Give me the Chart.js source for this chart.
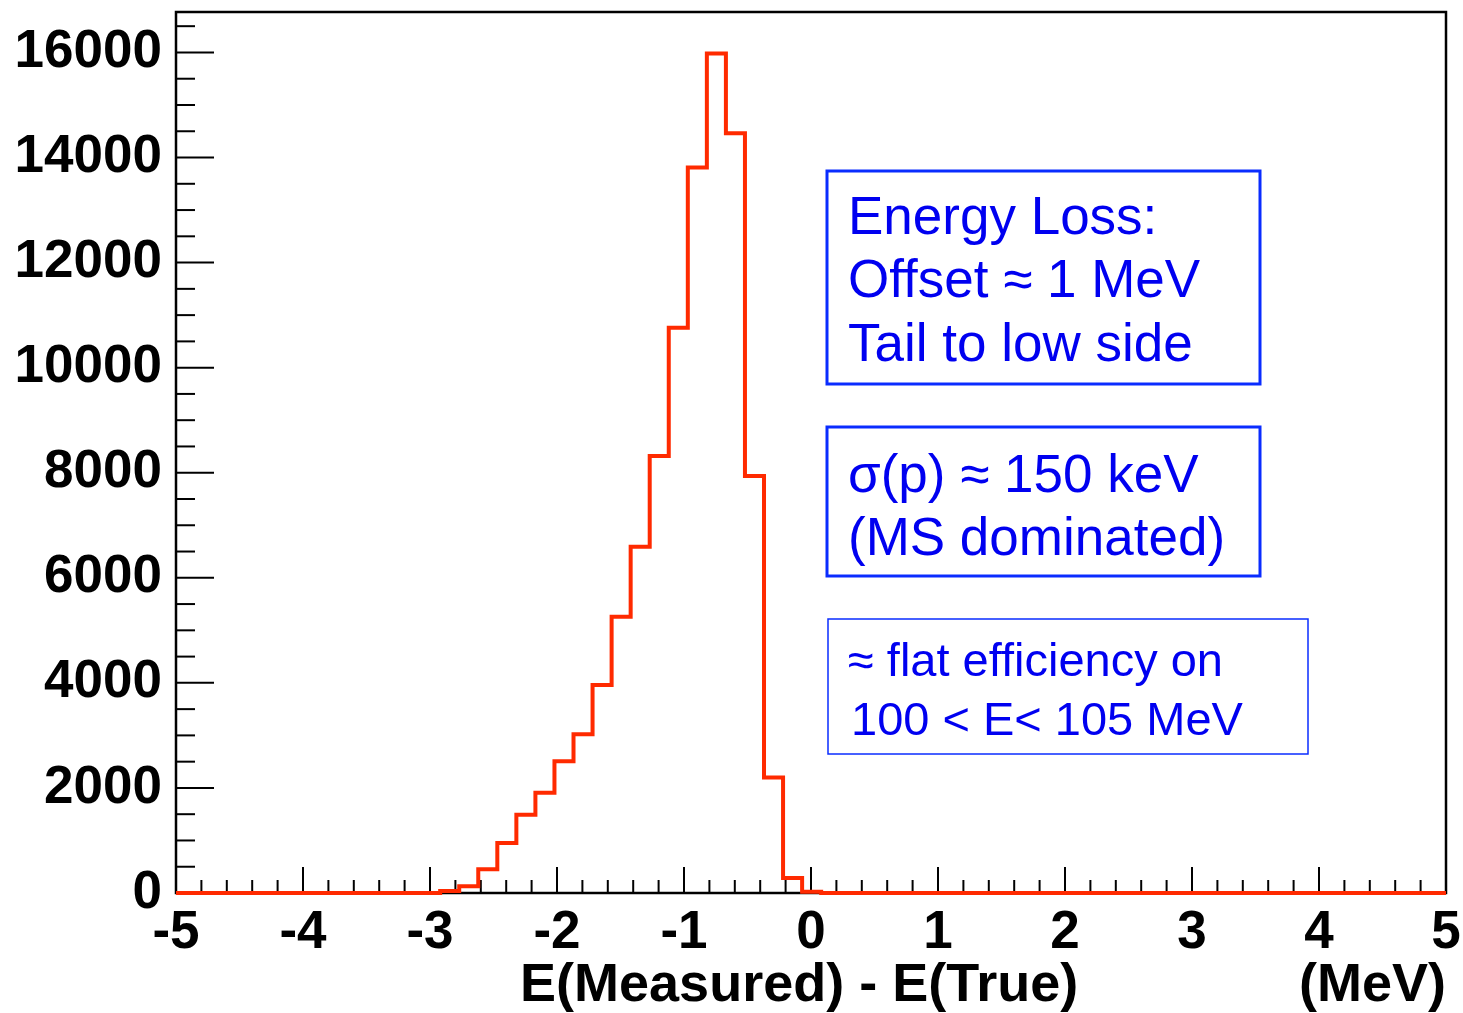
<!DOCTYPE html>
<html>
<head>
<meta charset="utf-8">
<script src="https://cdn.jsdelivr.net/npm/chart.js@4.4.0/dist/chart.umd.min.js"></script>
<style>
  html, body { margin: 0; padding: 0; background: #fff; }
  #wrap { width: 1463px; height: 1013px; }
</style>
</head>
<body>
<div id="wrap"><canvas id="chart" width="1463" height="1013"></canvas></div>
<script>
// histogram bin left edges (MeV) and contents
const binEdges = [-5, -2.92, -2.77, -2.62, -2.47, -2.32, -2.17, -2.02, -1.87, -1.72, -1.57,
                  -1.42, -1.27, -1.12, -0.97, -0.82, -0.67, -0.52, -0.37, -0.22, -0.07, 0.08, 5];
const binCounts = [0, 40, 130, 450, 950, 1490, 1910, 2510, 3020, 3960, 5260,
                   6590, 8320, 10760, 13810, 15980, 14460, 7940, 2200, 285, 25, 0, 0];

const xRange = [-5, 5];
const yRange = [0, 16770];
const xMinorStep = 0.2;   // labelled every 1
const yMinorStep = 500;   // labelled every 2000
const xTitle = 'E(Measured) - E(True)              \u2009(MeV)';

const boxLoss = ['Energy Loss:', 'Offset \u2248 1 MeV', 'Tail to low side'];
const boxSigma = ['\u03c3(p) \u2248 150 keV', '(MS dominated)'];
const boxEff = ['\u2248 flat efficiency on', '100 < E< 105 MeV'];

const FONT = "'Liberation Sans', Arial, Helvetica, sans-serif";

function isMultiple(v, step) {
  const r = v / step;
  return Math.abs(r - Math.round(r)) < 1e-6;
}

function stepTicks(min, max, step) {
  const out = [];
  const n = Math.floor((max - min) / step + 1e-9);
  for (let i = 0; i <= n; i++) out.push({ value: Math.round((min + i * step) * 1e9) / 1e9 });
  return out;
}

// ROOT-style frame with inward major/minor ticks
const rootFrame = {
  id: 'rootFrame',
  beforeDatasetsDraw(chart) {
    const { ctx, chartArea: a, scales: { x, y } } = chart;
    ctx.save();
    ctx.strokeStyle = '#000';
    ctx.lineWidth = 2;
    x.ticks.forEach(t => {
      const px = x.getPixelForValue(t.value);
      const len = isMultiple(t.value, 1) ? 26 : 13;
      ctx.beginPath();
      ctx.moveTo(px, a.bottom);
      ctx.lineTo(px, a.bottom - len);
      ctx.stroke();
    });
    y.ticks.forEach(t => {
      const py = y.getPixelForValue(t.value);
      const len = isMultiple(t.value, 2000) ? 38 : 19;
      ctx.beginPath();
      ctx.moveTo(a.left, py);
      ctx.lineTo(a.left + len, py);
      ctx.stroke();
    });
    ctx.lineWidth = 2.5;
    ctx.strokeRect(a.left, a.top, a.right - a.left, a.bottom - a.top);
    ctx.restore();
  }
};

// text panels
const panels = {
  id: 'panels',
  afterDraw(chart) {
    const ctx = chart.ctx;
    const drawBox = (l, t, r, b, lw, lines, size, baselines, xs) => {
      ctx.save();
      ctx.strokeStyle = '#0a2cff';
      ctx.lineWidth = lw;
      ctx.strokeRect(l, t, r - l, b - t);
      ctx.fillStyle = '#0000f0';
      ctx.font = size + 'px ' + FONT;
      ctx.textBaseline = 'alphabetic';
      ctx.textAlign = 'left';
      lines.forEach((s, i) => ctx.fillText(s, xs[i], baselines[i]));
      ctx.restore();
    };
    drawBox(827, 171, 1260, 384, 3, boxLoss, 53, [234, 297, 361], [848, 848, 848]);
    drawBox(827, 427, 1260, 576, 3, boxSigma, 53, [492, 555], [848, 848]);
    drawBox(828, 619, 1308, 754, 1.5, boxEff, 47, [676, 735], [848, 851]);
  }
};

const points = binEdges.map((e, i) => ({ x: e, y: binCounts[i] }));

new Chart(document.getElementById('chart'), {
  type: 'line',
  data: {
    datasets: [{
      data: points,
      stepped: 'before',
      borderColor: '#ff2a00',
      borderWidth: 4,
      pointRadius: 0,
      fill: false,
      clip: false
    }]
  },
  options: {
    responsive: false,
    animation: false,
    layout: { padding: { left: 0, right: 17, top: 12, bottom: 0 } },
    plugins: { legend: { display: false }, tooltip: { enabled: false } },
    scales: {
      x: {
        type: 'linear',
        min: xRange[0],
        max: xRange[1],
        grid: { display: false },
        border: { display: false },
        afterBuildTicks: s => { s.ticks = stepTicks(xRange[0], xRange[1], xMinorStep); },
        ticks: {
          autoSkip: false,
          maxRotation: 0,
          padding: 1,
          color: '#000',
          font: { family: FONT, size: 53, weight: 'bold', lineHeight: 1.2 },
          callback: v => isMultiple(v, 1) ? String(Math.round(v)) : ''
        },
        title: {
          display: true,
          text: xTitle,
          align: 'end',
          color: '#000',
          font: { family: FONT, size: 54, weight: 'bold', lineHeight: 1.0 },
          padding: { top: 0, bottom: 0 }
        },
        afterFit: s => { s.height = 120; s.paddingLeft = 0; s.paddingRight = 0; }
      },
      y: {
        type: 'linear',
        min: yRange[0],
        max: yRange[1],
        grid: { display: false },
        border: { display: false },
        afterBuildTicks: s => { s.ticks = stepTicks(yRange[0], yRange[1], yMinorStep); },
        ticks: {
          autoSkip: false,
          padding: 6,
          color: '#000',
          font: { family: FONT, size: 53, weight: 'bold', lineHeight: 1.2 },
          callback: v => isMultiple(v, 2000) ? String(Math.round(v)) : ''
        },
        afterFit: s => { s.width = 176; s.paddingTop = 0; s.paddingBottom = 0; }
      }
    }
  },
  plugins: [rootFrame, panels]
});
</script>
</body>
</html>
